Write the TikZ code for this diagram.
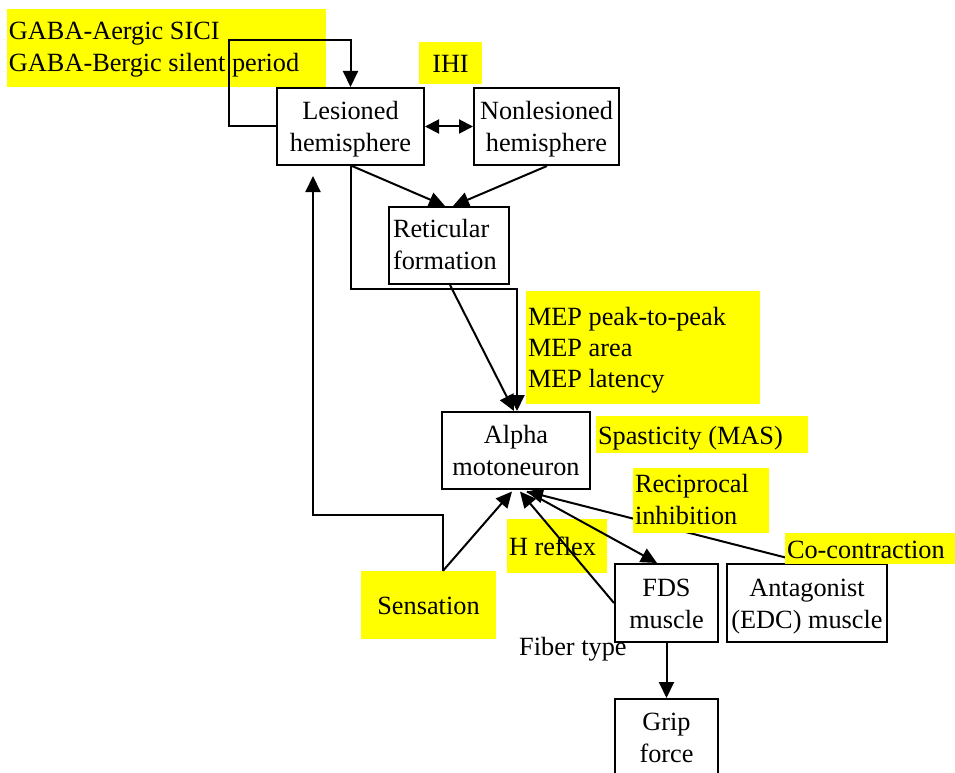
\documentclass[tikz,border=0pt]{standalone}
\usepackage{fontspec}
\setmainfont{Liberation Serif}
\usetikzlibrary{arrows.meta,calc}
\definecolor{hl}{RGB}{255,255,0}
\begin{document}
\begin{tikzpicture}[x=1pt,y=-1pt,
  every node/.style={font=\fontsize{26.3}{32}\selectfont, inner sep=0pt},
  % single line of text
  one/.style={text height=25pt, text depth=6pt},
  % two lines, natural width (baseline on the last line)
  two/.style={text height=56pt, text depth=6pt},
  % two or three lines set in a fixed text width (baseline on the first line)
  twoT/.style={text height=22pt, text depth=38pt},
  threeT/.style={text height=23pt, text depth=68pt, font=\fontsize{26.3}{31}\selectfont},
  box/.style={draw, line width=2pt, align=flush center, minimum height=77pt, two},
  tag/.style={fill=hl, align=flush left, inner xsep=2pt},
  link/.style={line width=2pt, -{Triangle[length=16pt,width=15pt]}},
  both/.style={line width=2pt, {Triangle[length=14pt,width=14pt]}-{Triangle[length=14pt,width=14pt]}}
]
\useasboundingbox (0,0) rectangle (955,773);
\clip (0,0) rectangle (955,773);

% highlighted measures lying beneath the connectors
\node[tag, twoT, text width=315pt, minimum height=78pt] (gaba) at (166.5,48) {GABA-Aergic SICI\\GABA-Bergic silent period};
\node[tag, one, align=flush center, minimum width=63pt, minimum height=42pt] (ihi) at (450.5,63) {IHI};
\node[tag, threeT, text width=230pt, minimum height=113pt] (mep) at (643,347.5) {MEP peak-to-peak\\MEP area\\MEP latency};
\node[tag, one, text width=208pt, minimum height=37pt] (spas) at (702,434.5) {Spasticity (MAS)};
\node[tag, one, text width=96pt, minimum height=54pt] (hrefl) at (557,546) {H reflex};
\node[tag, one, align=flush center, minimum width=135pt, minimum height=68pt] (sens) at (428.5,605) {Sensation};

% structures
\node[box, minimum width=147pt] (les) at (350.5,126.5) {Lesioned\\hemisphere};
\node[box, minimum width=145pt] (non) at (546.5,126.5) {Nonlesioned\\hemisphere};
\node[box, twoT, text width=112pt, inner xsep=4pt, align=flush left] (ret) at (449,245.5) {Reticular\\formation};
\node[box, minimum width=148pt] (alpha) at (516,450.5) {Alpha\\motoneuron};
\node[box, minimum width=103pt, minimum height=78pt] (fds) at (666.5,603) {FDS\\muscle};
\node[box, minimum width=160pt, minimum height=78pt] (ant) at (807,603) {Antagonist\\(EDC) muscle};
\node[box, minimum width=103pt] (grip) at (666.5,737.5) {Grip\\force};
\node[anchor=base west] (fiber) at (519,655) {Fiber type};

% helper points
\coordinate (loop) at (229,40);
\coordinate (sensTop) at ($(sens.north)+(14.5,0)$);
\coordinate (fbEnd) at (313,176);
\coordinate (aS1) at ($(alpha.south)+(-4,1.5)$);
\coordinate (aS2) at ($(alpha.south)+(4,1.5)$);
\coordinate (aS3) at ($(alpha.south)+(11,1.5)$);

% connectors
\draw[link] (les.west) -| (loop) -| (les.north);
\draw[both] (les.east) -- (non.west);
\draw[link] ($(les.south)+(1.5,0)$) -- ($(ret.north)+(-4,0)$);
\draw[link] ($(non.south)+(0.5,0)$) -- ($(ret.north)+(4,0)$);
\draw[link] (les.south) -- ++(0,123) -| ($(alpha.north)+(1,0)$);
\draw[link] ($(ret.south)+(1,0)$) -- ($(alpha.north)+(-2,0)$);
\draw[link] (sensTop) -- ++(0,-56) -| (fbEnd);
\draw[link] (sensTop) -- (aS1);
\draw[link] (fds.west) -- (aS2);
\draw[link] (ant.north) -- (aS3);
\draw[link] (aS3) -- ($(fds.north)+(-9.5,0)$);
\draw[link] (fds.south) -- (grip.north);

% highlighted measures lying over the connectors
\node[tag, twoT, text width=132pt, minimum height=65pt] (recip) at (701,500.5) {Reciprocal\\inhibition};
\node[tag, one, text width=166pt, minimum height=31pt] (cocon) at (870,548.5) {Co-contraction};
\end{tikzpicture}
\end{document}
